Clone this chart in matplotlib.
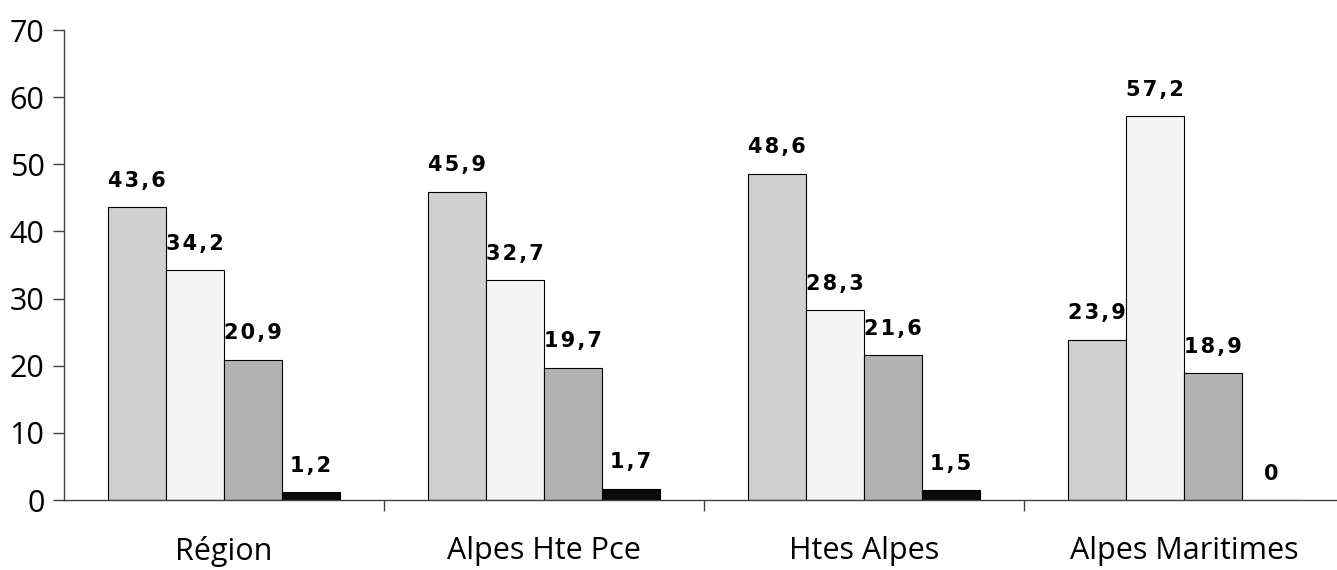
import matplotlib
matplotlib.use("Agg")
import matplotlib.pyplot as plt
import numpy as np

categories = ["Région", "Alpes Hte Pce", "Htes Alpes", "Alpes Maritimes"]
series1 = [43.6, 45.9, 48.6, 23.9]
series2 = [34.2, 32.7, 28.3, 57.2]
series3 = [20.9, 19.7, 21.6, 18.9]
series4 = [1.2, 1.7, 1.5, 0.0]
colors = ["#d0d0d0", "#f4f4f4", "#b3b3b3", "#0a0a0a"]
yticks = [0, 10, 20, 30, 40, 50, 60, 70]

fig = plt.figure(figsize=(13.37, 5.70), dpi=100)
ax = fig.add_axes([64/1337, 70/570, 1280/1337, 470/570])

x = np.arange(len(categories))
w = 58/320
allseries = [series1, series2, series3, series4]
for i, (vals, c) in enumerate(zip(allseries, colors)):
    pos = x + (i - 1.5) * w
    ax.bar(pos, vals, width=w, color=c, edgecolor="#000000", linewidth=0.8, zorder=2)
    for px, v in zip(pos, vals):
        lab = ("%g" % v).replace(".", ",")
        lab = "\u200a".join(lab)
        ax.annotate(lab, (px, v), xytext=(0, 19), textcoords="offset points",
                    ha="center", va="center", fontsize=15, fontweight="bold",
                    family="DejaVu Sans")

ax.set_xlim(-0.5, 3.5)
ax.set_ylim(0, 70)
ax.set_yticks(yticks)
ax.set_yticklabels([str(t) for t in yticks], fontsize=22, family="Open Sans")
ax.set_xticks([0.5, 1.5, 2.5, 3.5])
ax.set_xticklabels([])
ax.set_xticks(x, minor=True)
ax.set_xticklabels(categories, minor=True, fontsize=22, family="Open Sans")
ax.tick_params(axis="x", which="minor", length=0, pad=26)
ax.tick_params(axis="x", which="major", length=8, width=1, color="#404040", direction="out")
ax.tick_params(axis="y", length=8, width=1, color="#404040", direction="out", pad=6)
for s in ["top", "right", "bottom"]:
    ax.spines[s].set_visible(False)
ax.spines["left"].set_color("#404040")
ax.spines["left"].set_linewidth(1)
ax.plot([-0.5, 3.6], [0, 0], color="#404040", linewidth=1, clip_on=False, zorder=3)

fig.savefig("out.png", dpi=100)
